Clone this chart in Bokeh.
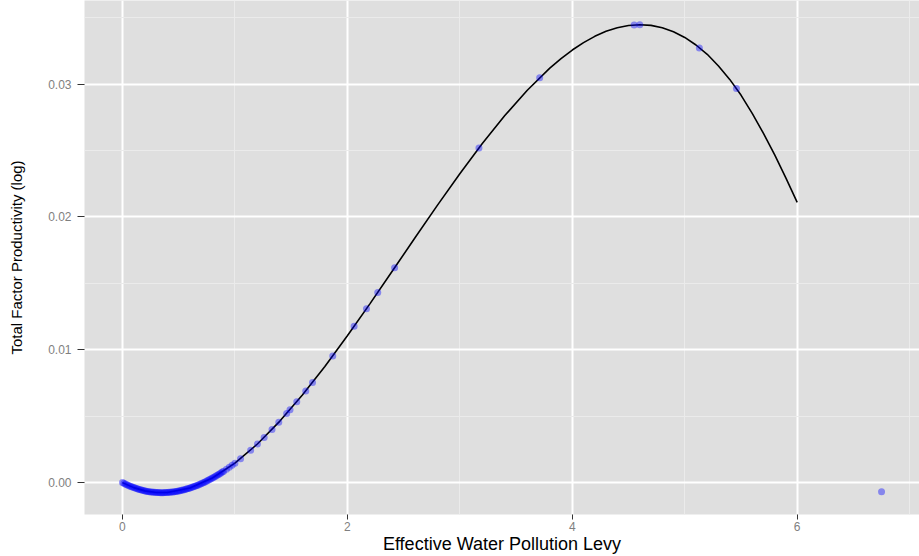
from bokeh.plotting import figure
from bokeh.models import FixedTicker, PrintfTickFormatter, Range1d
from bokeh.embed import file_html
from bokeh.resources import INLINE

# fitted curve
curve_x = [0.0, 0.1, 0.2, 0.3, 0.4, 0.6, 0.8, 1.0, 1.2, 1.4, 1.6, 1.8, 2.0, 2.2, 2.4, 2.6, 2.8,
           3.0, 3.2, 3.4, 3.6, 3.8, 3.9, 4.0, 4.1, 4.2, 4.3, 4.4, 4.5, 4.6, 4.7, 4.8, 4.9,
           5.0, 5.1, 5.2, 5.3, 5.4, 5.5, 5.6, 5.7, 5.8, 5.9, 6.0]
curve_y = [0.0, -0.000376, -0.000621, -0.000742, -0.000742, -0.000405, 0.000345, 0.001464,
           0.002908, 0.004633, 0.006595, 0.008749, 0.011053, 0.013461, 0.015929, 0.018414,
           0.020872, 0.023258, 0.025528, 0.027638, 0.029545, 0.031204, 0.031926, 0.032571,
           0.033131, 0.033602, 0.033977, 0.034252, 0.034421, 0.034479, 0.034425, 0.034250,
           0.033950, 0.033520, 0.032950, 0.032250, 0.031370, 0.030360, 0.029180, 0.027800,
           0.026300, 0.024670, 0.022920, 0.021100]

# observations
pts_x = [0.0, 0.0125, 0.025, 0.0375, 0.05, 0.0625, 0.075, 0.0875, 0.1, 0.1125, 0.125,
         0.1375, 0.15, 0.1625, 0.175, 0.1875, 0.2, 0.2125, 0.225, 0.2375, 0.25, 0.2625,
         0.275, 0.2875, 0.3, 0.3125, 0.325, 0.3375, 0.35, 0.3625, 0.375, 0.3875, 0.4,
         0.4125, 0.425, 0.4375, 0.45, 0.4625, 0.475, 0.4875, 0.5, 0.5125, 0.525, 0.5375,
         0.55, 0.5625, 0.575, 0.5875, 0.6, 0.6125, 0.625, 0.6375, 0.65, 0.6625, 0.675,
         0.6875, 0.7, 0.7125, 0.725, 0.7375, 0.75, 0.7625, 0.775, 0.7875, 0.8, 0.8125,
         0.825, 0.8375, 0.85, 0.8625, 0.875, 0.8875, 0.9, 0.925, 0.95, 0.975, 1.0, 1.05,
         1.14, 1.20, 1.26, 1.33, 1.39, 1.46, 1.49, 1.55, 1.63, 1.69, 1.87, 2.06, 2.17,
         2.27, 2.42, 3.17, 3.71, 4.55, 4.60, 5.13, 5.46, 6.75]
pts_y = [0.0, -0.0000544, -0.0001066, -0.0001567, -0.0002048, -0.0002507, -0.0002946,
         -0.0003364, -0.0003761, -0.0004139, -0.0004495, -0.0004832, -0.0005148,
         -0.0005445, -0.0005721, -0.0005978, -0.0006215, -0.0006432, -0.000663, -0.0006809,
         -0.0006968, -0.0007108, -0.000723, -0.0007332, -0.0007415, -0.000748, -0.0007526,
         -0.0007553, -0.0007563, -0.0007553, -0.0007526, -0.0007481, -0.0007417,
         -0.0007336, -0.0007237, -0.0007121, -0.0006986, -0.0006835, -0.0006666,
         -0.000648, -0.0006277, -0.0006057, -0.000582, -0.0005566, -0.0005295, -0.0005008,
         -0.0004704, -0.0004385, -0.0004048, -0.0003696, -0.0003328, -0.0002943,
         -0.0002543, -0.0002128, -0.0001696, -0.0001249, -0.0000787, -0.000031, 0.0000183,
         0.0000691, 0.0001213, 0.0001751, 0.0002303, 0.000287, 0.0003452, 0.0004048,
         0.0004658, 0.0005282, 0.000592, 0.0006573, 0.0007239, 0.0007919, 0.0008613,
         0.0010041, 0.0011523, 0.0013057, 0.0014642, 0.0017962, 0.0024435, 0.0029082,
         0.0033982, 0.0040001, 0.004541, 0.0051988, 0.0054893, 0.0060847, 0.0069069,
         0.0075432, 0.0095409, 0.0117661, 0.0130946, 0.0143202, 0.0161776, 0.025197,
         0.0304906, 0.0344646, 0.034479, 0.03272, 0.02968, -0.00068]

x_ticks = [0, 2, 4, 6]
x_minor = [1, 3, 5, 7]
y_ticks = [0.00, 0.01, 0.02, 0.03]
y_minor = [0.005, 0.015, 0.025, 0.035]

p = figure(width=919, height=556, output_backend="svg", toolbar_location=None,
           x_range=Range1d(-0.3375, 7.0875), y_range=Range1d(-0.0024, 0.0363),
           min_border_left=84, min_border_right=0, min_border_top=0, min_border_bottom=39)
p.background_fill_color = "#DFDFDF"
p.border_fill_color = "white"
p.outline_line_color = None

xt = FixedTicker(ticks=x_ticks, minor_ticks=x_minor)
yt = FixedTicker(ticks=y_ticks, minor_ticks=y_minor)
p.xaxis.ticker = xt
p.yaxis.ticker = yt
p.xgrid.ticker = xt
p.ygrid.ticker = yt
for g in (p.xgrid, p.ygrid):
    g.grid_line_color = "white"
    g.grid_line_width = 2
    g.minor_grid_line_color = "#EBEBEB"
    g.minor_grid_line_width = 1

p.yaxis.formatter = PrintfTickFormatter(format="%.2f")
for ax in (p.xaxis, p.yaxis):
    ax.axis_line_color = None
    ax.major_tick_line_color = "#333333"
    ax.major_tick_in = 0
    ax.minor_tick_line_color = None
    ax.major_label_text_color = "#7F7F7F"
    ax.major_label_text_font = "Liberation Sans"
    ax.major_label_text_font_size = "12px"
    ax.axis_label_text_font = "Liberation Sans"
    ax.axis_label_text_font_style = "normal"
    ax.axis_label_text_color = "black"

p.xaxis.major_tick_out = 5
p.xaxis.major_label_standoff = 2
p.xaxis.axis_label = "Effective Water Pollution Levy"
p.xaxis.axis_label_text_font_size = "18px"
p.xaxis.axis_label_standoff = 0

p.yaxis.major_tick_out = 7
p.yaxis.major_label_standoff = 6
p.yaxis.axis_label = "Total Factor Productivity (log)"
p.yaxis.axis_label_text_font_size = "15px"
p.yaxis.axis_label_standoff = 20

p.line(curve_x, curve_y, line_color="black", line_width=1.6)
p.scatter(pts_x, pts_y, size=7, fill_color="blue", fill_alpha=0.4, line_color=None)

open("out.html", "w").write(file_html(p, INLINE))
